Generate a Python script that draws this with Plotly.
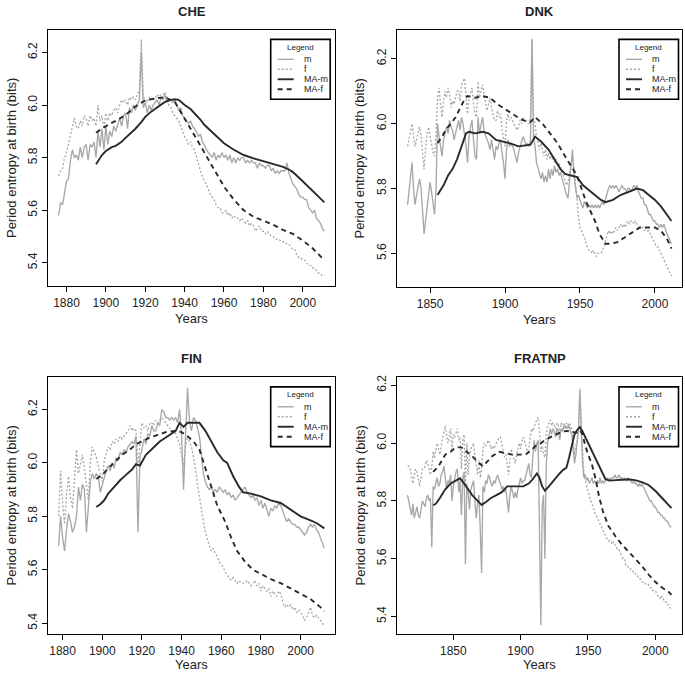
import plotly.graph_objects as go

W, H = 685, 673
FONT = "Liberation Sans, Arial, Helvetica, sans-serif"
TXT = "#222222"

# ---------------- data ----------------
CHE_YEARS = list(range(1876, 2012))
CHE_M = [5.58, 5.63, 5.62, 5.66,
         5.71, 5.72, 5.79, 5.83, 5.80, 5.81, 5.79, 5.84, 5.80, 5.84,
         5.85, 5.79, 5.85, 5.84, 5.86, 5.80, 5.90, 5.84, 5.91, 5.83,
         5.92, 5.85, 5.90, 5.88, 5.92, 5.90, 5.93, 5.95, 5.92, 5.96,
         5.97, 5.91, 5.99, 5.97, 6.00, 5.98, 6.00, 6.02, 6.20, 5.99,
         6.01, 5.97, 6.00, 5.98, 6.00, 6.01, 6.02, 6.00, 6.03, 6.02,
         6.04, 6.01, 6.02, 6.02, 6.01, 6.02, 6.00, 5.98, 5.99, 5.96,
         5.95, 5.94, 5.93, 5.94, 5.92, 5.91, 5.90, 5.88, 5.89, 5.86,
         5.85, 5.83, 5.82, 5.81, 5.80, 5.82, 5.79, 5.81, 5.80, 5.82,
         5.80, 5.81, 5.79, 5.81, 5.78, 5.80, 5.78, 5.80, 5.79, 5.80,
         5.80, 5.78, 5.79, 5.78, 5.79, 5.78, 5.78, 5.76, 5.78, 5.77,
         5.77, 5.76, 5.77, 5.77, 5.75, 5.76, 5.74, 5.75, 5.74, 5.75,
         5.75, 5.75, 5.78, 5.74, 5.72, 5.70, 5.69, 5.68, 5.66, 5.65,
         5.65, 5.64, 5.64, 5.61, 5.60, 5.59, 5.60, 5.57, 5.56, 5.55,
         5.53, 5.52]
CHE_F = [5.73, 5.75, 5.76, 5.80,
         5.82, 5.85, 5.88, 5.91, 5.95, 5.92, 5.91, 5.94, 5.92, 5.96,
         5.95, 5.92, 5.96, 5.94, 5.95, 5.92, 6.00, 5.94, 5.96, 5.91,
         5.97, 5.94, 5.97, 5.96, 5.98, 5.99, 5.97, 6.00, 6.02, 6.01,
         6.02, 6.00, 6.03, 6.02, 6.03, 6.02, 6.04, 6.06, 6.25, 6.03,
         6.02, 6.01, 6.03, 6.02, 6.03, 6.02, 6.04, 6.03, 6.04, 6.04,
         6.05, 6.03, 6.00, 5.99, 5.97, 5.96, 5.95, 5.94, 5.92, 5.90,
         5.88, 5.87, 5.85, 5.86, 5.84, 5.83, 5.80, 5.78, 5.75, 5.73,
         5.71, 5.70, 5.68, 5.66, 5.65, 5.64, 5.62, 5.61, 5.61, 5.59,
         5.59, 5.60, 5.58, 5.59, 5.57, 5.58, 5.57, 5.57, 5.56, 5.57,
         5.56, 5.55, 5.56, 5.54, 5.55, 5.54, 5.52, 5.53, 5.54, 5.52,
         5.52, 5.51, 5.52, 5.51, 5.50, 5.50, 5.49, 5.49, 5.49, 5.48,
         5.48, 5.48, 5.47, 5.47, 5.46, 5.45, 5.45, 5.43, 5.42, 5.42,
         5.41, 5.41, 5.40, 5.39, 5.39, 5.38, 5.38, 5.37, 5.36, 5.36,
         5.35, 5.35]
CHE_MAM_YEARS = [1895, 1898, 1900, 1903, 1905, 1908, 1910, 1913, 1915, 1918, 1920, 1923,
                 1925, 1928, 1930, 1933, 1935, 1937, 1940, 1943, 1945, 1948, 1950, 1955,
                 1960, 1965, 1970, 1975, 1980, 1985, 1990, 1993, 1995, 2000, 2005, 2011]
CHE_MAM = [5.775, 5.81, 5.825, 5.84, 5.845, 5.86, 5.875, 5.895, 5.91, 5.935, 5.955, 5.975,
           5.985, 6.00, 6.012, 6.02, 6.022, 6.02, 6.00, 5.985, 5.97, 5.945, 5.925, 5.89,
           5.855, 5.83, 5.81, 5.797, 5.786, 5.776, 5.765, 5.755, 5.745, 5.71, 5.675, 5.63]
CHE_MAF_YEARS = [1895, 1900, 1905, 1910, 1915, 1920, 1925, 1930, 1935, 1940, 1945, 1950,
                 1955, 1960, 1965, 1970, 1975, 1980, 1985, 1990, 1995, 2000, 2005, 2011]
CHE_MAF = [5.895, 5.92, 5.94, 5.962, 5.995, 6.018, 6.025, 6.03, 6.012, 5.95, 5.885, 5.82,
           5.755, 5.69, 5.64, 5.60, 5.575, 5.56, 5.545, 5.525, 5.51, 5.485, 5.455, 5.41]

DNK_YEARS = list(range(1835, 2012))
DNK_M = [5.75, 5.80, 5.85, 5.88, 5.80,
         5.75, 5.78, 5.80, 5.83, 5.80, 5.74, 5.66, 5.70, 5.74, 5.78,
         5.82, 5.79, 5.76, 5.72, 5.80, 6.00, 5.96, 5.93, 5.90, 5.95,
         5.97, 5.99, 5.97, 6.01, 5.99, 5.98, 5.95, 5.97, 5.99, 6.01,
         5.98, 6.02, 6.00, 5.97, 5.93, 5.88, 5.96, 5.99, 6.01, 5.95,
         5.90, 5.89, 6.02, 5.97, 5.99, 6.02, 5.98, 5.96, 5.95, 5.94,
         5.92, 5.95, 5.91, 5.89, 5.93, 5.92, 5.94, 5.95, 5.91, 5.88,
         5.83, 5.92, 5.95, 5.93, 5.94, 5.93, 5.92, 5.90, 5.88, 5.91,
         5.93, 5.94, 5.96, 5.95, 5.93, 5.94, 5.93, 5.95, 6.26, 5.96,
         5.93, 5.88, 5.86, 5.85, 5.83, 5.85, 5.82, 5.84, 5.82, 5.86,
         5.83, 5.86, 5.84, 5.87, 5.85, 5.86, 5.84, 5.85, 5.83, 5.82,
         5.80, 5.78, 5.77, 5.82, 5.86, 5.92, 5.84, 5.80, 5.77, 5.78,
         5.76, 5.75, 5.74, 5.76, 5.75, 5.74, 5.75, 5.74, 5.75, 5.74,
         5.75, 5.74, 5.75, 5.74, 5.75, 5.76, 5.75, 5.77, 5.79, 5.80,
         5.81, 5.80, 5.81, 5.80, 5.81, 5.80, 5.79, 5.80, 5.81, 5.80,
         5.80, 5.79, 5.80, 5.80, 5.79, 5.80, 5.81, 5.80, 5.81, 5.79,
         5.78, 5.77, 5.77, 5.75, 5.75, 5.73, 5.72, 5.72, 5.71, 5.70,
         5.70, 5.69, 5.69, 5.68, 5.69, 5.68, 5.69, 5.67, 5.66, 5.65,
         5.64, 5.63]
DNK_F = [5.93, 5.95, 5.97, 6.00, 5.96,
         5.93, 5.95, 5.97, 5.99, 5.96, 5.90, 5.86, 5.92, 5.97, 5.99,
         5.96, 5.93, 5.91, 5.90, 5.97, 6.08, 6.11, 6.06, 6.02, 6.07,
         6.10, 6.08, 6.11, 6.09, 6.05, 6.07, 6.06, 6.08, 6.10, 6.10,
         6.07, 6.12, 6.13, 6.14, 6.08, 6.03, 6.08, 6.10, 6.11, 6.06,
         6.03, 6.02, 6.13, 6.08, 6.10, 6.12, 6.09, 6.06, 6.04, 6.06,
         6.08, 6.05, 6.03, 6.01, 6.01, 6.04, 6.02, 6.03, 5.98, 5.96,
         5.93, 6.01, 6.03, 6.01, 6.02, 6.01, 6.00, 5.99, 5.98, 5.99,
         6.01, 6.00, 6.02, 6.01, 6.01, 6.00, 6.00, 6.02, 6.26, 6.02,
         6.00, 5.96, 5.94, 5.92, 5.94, 5.92, 5.90, 5.92, 5.89, 5.91,
         5.89, 5.90, 5.89, 5.88, 5.89, 5.87, 5.88, 5.86, 5.85, 5.84,
         5.82, 5.81, 5.82, 5.85, 5.88, 5.90, 5.86, 5.82, 5.77, 5.71,
         5.68, 5.67, 5.66, 5.65, 5.63, 5.62, 5.61, 5.61, 5.60, 5.61,
         5.60, 5.59, 5.60, 5.60, 5.60, 5.61, 5.62, 5.64, 5.66, 5.67,
         5.66, 5.67, 5.66, 5.67, 5.68, 5.67, 5.68, 5.69, 5.68, 5.69,
         5.68, 5.69, 5.70, 5.69, 5.70, 5.70, 5.69, 5.70, 5.69, 5.68,
         5.68, 5.68, 5.68, 5.67, 5.68, 5.67, 5.67, 5.66, 5.65, 5.64,
         5.63, 5.62, 5.62, 5.61, 5.60, 5.59, 5.58, 5.57, 5.56, 5.55,
         5.54, 5.53]
DNK_MAM_YEARS = [1855, 1859, 1862, 1865, 1868, 1871, 1874, 1876, 1880, 1885, 1889, 1894,
                 1898, 1903, 1909, 1913, 1917, 1920, 1924, 1929, 1933, 1937, 1940, 1944,
                 1948, 1952, 1956, 1960, 1964, 1967, 1972, 1977, 1982, 1988, 1992, 1996,
                 2000, 2004, 2008, 2011]
DNK_MAM = [5.78, 5.81, 5.84, 5.86, 5.89, 5.93, 5.97, 5.975, 5.97, 5.975, 5.97, 5.95,
           5.945, 5.94, 5.93, 5.932, 5.935, 5.96, 5.945, 5.92, 5.89, 5.86, 5.845, 5.84,
           5.835, 5.81, 5.795, 5.78, 5.765, 5.758, 5.765, 5.78, 5.79, 5.80, 5.795, 5.78,
           5.765, 5.745, 5.72, 5.70]
DNK_MAF_YEARS = [1855, 1858, 1861, 1864, 1867, 1870, 1873, 1875, 1880, 1885, 1890, 1895,
                 1900, 1905, 1910, 1915, 1917, 1920, 1925, 1930, 1935, 1940, 1945, 1948,
                 1951, 1954, 1957, 1960, 1963, 1967, 1971, 1975, 1980, 1985, 1990, 1995,
                 2000, 2004, 2008, 2011]
DNK_MAF = [5.94, 5.96, 5.985, 6.00, 6.02, 6.05, 6.075, 6.085, 6.08, 6.085, 6.08, 6.06,
           6.045, 6.03, 6.015, 6.005, 6.005, 6.02, 6.00, 5.97, 5.94, 5.90, 5.86, 5.84,
           5.80, 5.76, 5.73, 5.70, 5.66, 5.63, 5.63, 5.635, 5.65, 5.665, 5.68, 5.68,
           5.68, 5.67, 5.645, 5.615]

FIN_YEARS = list(range(1878, 2013))
FIN_M = [5.69, 5.80,
         5.72, 5.67, 5.75, 5.81, 5.78, 5.74, 5.76, 5.80, 5.91, 5.86,
         5.92, 5.90, 5.74, 5.85, 5.93, 5.96, 5.94, 5.96, 5.95, 5.89,
         5.92, 5.95, 5.97, 5.99, 5.97, 6.00, 5.98, 6.02, 6.01, 6.04,
         6.03, 6.05, 6.04, 6.06, 6.07, 6.08, 6.07, 6.10, 5.74, 6.02,
         6.05, 6.09, 6.07, 6.11, 6.10, 6.14, 6.12, 6.12, 6.15, 6.14,
         6.20, 6.19, 6.17, 6.17, 6.16, 6.17, 6.16, 6.17, 6.15, 6.20,
         6.10, 5.90, 6.10, 6.28, 6.15, 6.12, 6.17, 6.16, 6.13, 6.10,
         6.03, 5.96, 5.93, 5.91, 5.90, 5.91, 5.89, 5.90, 5.89, 5.91,
         5.90, 5.89, 5.90, 5.88, 5.89, 5.87, 5.88, 5.86, 5.87, 5.88,
         5.89, 5.90, 5.91, 5.89, 5.88, 5.87, 5.88, 5.86, 5.87, 5.84,
         5.86, 5.83, 5.85, 5.82, 5.80, 5.83, 5.82, 5.84, 5.83, 5.85,
         5.84, 5.82, 5.80, 5.78, 5.79, 5.78, 5.77, 5.77, 5.76, 5.76,
         5.75, 5.74, 5.73, 5.74, 5.76, 5.77, 5.76, 5.77, 5.75, 5.74,
         5.72, 5.70, 5.68]
FIN_F = [5.80, 5.97,
         5.85, 5.77, 5.88, 5.95, 5.87, 5.83, 5.94, 6.05, 5.96, 6.00,
         6.03, 5.98, 5.92, 5.86, 6.00, 6.06, 6.04, 6.02, 5.99, 5.96,
         5.93, 6.01, 6.04, 6.06, 6.05, 6.08, 6.07, 6.09, 6.08, 6.10,
         6.09, 6.10, 6.11, 6.12, 6.14, 6.12, 6.13, 6.12, 5.99, 6.08,
         6.15, 6.13, 6.14, 6.12, 6.15, 6.15, 6.14, 6.16, 6.15, 6.16,
         6.17, 6.16, 6.15, 6.14, 6.13, 6.12, 6.12, 6.11, 6.09, 6.07,
         6.03, 5.99, 6.06, 6.10, 6.08, 6.06, 6.02, 5.98, 5.92, 5.87,
         5.83, 5.78, 5.74, 5.71, 5.69, 5.67, 5.68, 5.66, 5.65, 5.63,
         5.62, 5.61, 5.59, 5.58, 5.57, 5.56, 5.57, 5.56, 5.55, 5.56,
         5.55, 5.55, 5.55, 5.56, 5.55, 5.54, 5.55, 5.56, 5.54, 5.55,
         5.52, 5.54, 5.53, 5.52, 5.53, 5.50, 5.52, 5.51, 5.50, 5.52,
         5.51, 5.48, 5.46, 5.47, 5.46, 5.47, 5.45, 5.46, 5.44, 5.45,
         5.44, 5.43, 5.41, 5.42, 5.44, 5.46, 5.43, 5.42, 5.43, 5.42,
         5.41, 5.40, 5.39]
FIN_MAM_YEARS = [1897, 1899, 1901, 1903, 1906, 1909, 1912, 1915, 1917, 1919, 1922, 1925,
                 1929, 1933, 1937, 1939, 1941, 1943, 1946, 1949, 1952, 1955, 1958, 1961,
                 1963, 1966, 1969, 1971, 1975, 1980, 1985, 1990, 1995, 2000, 2005, 2008,
                 2012]
FIN_MAM = [5.835, 5.845, 5.86, 5.885, 5.91, 5.935, 5.955, 5.975, 5.995, 5.99, 6.03, 6.05,
           6.08, 6.10, 6.12, 6.15, 6.135, 6.15, 6.15, 6.15, 6.12, 6.08, 6.04, 6.01,
           6.00, 5.95, 5.91, 5.89, 5.885, 5.875, 5.86, 5.85, 5.825, 5.80, 5.785, 5.775,
           5.755]
FIN_MAF_YEARS = [1897, 1900, 1903, 1907, 1910, 1914, 1917, 1920, 1924, 1928, 1932, 1937,
                 1940, 1943, 1946, 1949, 1952, 1955, 1958, 1962, 1965, 1968, 1972, 1976,
                 1980, 1985, 1990, 1995, 2000, 2005, 2010, 2012]
FIN_MAF = [5.94, 5.955, 5.98, 6.01, 6.03, 6.05, 6.07, 6.08, 6.095, 6.105, 6.115, 6.12,
           6.115, 6.10, 6.08, 6.05, 5.98, 5.91, 5.84, 5.78, 5.72, 5.67, 5.63, 5.60,
           5.585, 5.565, 5.55, 5.53, 5.51, 5.49, 5.46, 5.445]

FRA_YEARS = list(range(1816, 2013))
FRA_M = [5.82, 5.80, 5.78, 5.75,
         5.79, 5.74, 5.76, 5.78, 5.75, 5.74, 5.77, 5.80, 5.79, 5.78,
         5.81, 5.82, 5.80, 5.81, 5.64, 5.85, 5.84, 5.86, 5.88, 5.85,
         5.86, 5.89, 5.90, 5.92, 5.88, 5.84, 5.87, 5.86, 5.89, 5.80,
         5.85, 5.88, 5.90, 5.91, 5.83, 5.87, 5.75, 5.88, 5.90, 5.58,
         5.86, 5.83, 5.77, 5.84, 5.86, 5.87, 5.80, 5.74, 5.79, 5.82,
         5.70, 5.55, 5.85, 5.83, 5.87, 5.86, 5.89, 5.88, 5.86, 5.85,
         5.87, 5.86, 5.88, 5.89, 5.87, 5.86, 5.84, 5.85, 5.83, 5.84,
         5.80, 5.76, 5.82, 5.85, 5.83, 5.81, 5.83, 5.81, 5.84, 5.86,
         5.88, 5.86, 5.87, 5.87, 5.89, 5.90, 5.93, 5.89, 5.88, 5.95,
         6.01, 5.97, 6.00, 6.01, 5.70, 5.37, 5.78, 5.82, 5.60, 5.92,
         6.00, 6.02, 6.05, 6.03, 6.05, 6.04, 6.02, 6.05, 6.04, 6.01,
         6.05, 6.04, 6.06, 6.05, 6.06, 6.05, 6.06, 6.04, 6.03, 5.98,
         5.93, 5.96, 6.01, 6.05, 6.18, 6.02, 5.93, 5.88, 5.89, 5.87,
         5.88, 5.86, 5.87, 5.88, 5.86, 5.87, 5.86, 5.87, 5.86, 5.88,
         5.86, 5.87, 5.86, 5.87, 5.88, 5.87, 5.88, 5.87, 5.88, 5.88,
         5.89, 5.88, 5.88, 5.89, 5.88, 5.88, 5.87, 5.88, 5.87, 5.87,
         5.88, 5.87, 5.87, 5.86, 5.87, 5.86, 5.86, 5.85, 5.86, 5.85,
         5.86, 5.85, 5.84, 5.83, 5.82, 5.81, 5.80, 5.80, 5.79, 5.78,
         5.78, 5.77, 5.76, 5.76, 5.75, 5.75, 5.74, 5.74, 5.73, 5.73,
         5.72, 5.71, 5.71]
FRA_F = [5.92, 5.92, 5.91, 5.88,
         5.86, 5.89, 5.91, 5.90, 5.87, 5.85, 5.88, 5.91, 5.91, 5.92,
         5.94, 5.93, 5.91, 5.89, 5.92, 5.97, 5.95, 5.98, 6.00, 5.98,
         5.96, 5.99, 6.02, 6.04, 6.06, 6.03, 6.00, 6.02, 6.05, 5.97,
         6.03, 6.02, 6.04, 6.05, 6.01, 6.02, 5.91, 6.01, 6.03, 5.85,
         6.00, 5.89, 5.95, 5.98, 5.99, 6.00, 5.96, 5.92, 5.89, 5.94,
         5.88, 5.91, 5.98, 6.00, 5.99, 6.00, 6.01, 6.00, 5.98, 5.99,
         5.98, 5.99, 6.00, 6.01, 6.02, 6.02, 6.00, 5.98, 5.95, 5.96,
         5.92, 5.89, 5.94, 5.98, 5.96, 5.94, 5.93, 5.96, 5.98, 6.00,
         5.98, 6.01, 6.02, 6.00, 5.99, 5.97, 5.98, 6.01, 6.05, 6.04,
         6.06, 6.07, 6.08, 6.09, 6.04, 5.97, 5.99, 5.96, 5.95, 6.03,
         6.06, 6.07, 6.08, 6.06, 6.07, 6.06, 6.05, 6.07, 6.06, 6.04,
         6.07, 6.06, 6.07, 6.06, 6.07, 6.06, 6.07, 6.06, 6.05, 6.01,
         5.96, 5.99, 6.01, 6.06, 6.19, 6.05, 5.95, 5.90, 5.87, 5.85,
         5.83, 5.81, 5.80, 5.79, 5.77, 5.76, 5.75, 5.74, 5.73, 5.72,
         5.71, 5.70, 5.69, 5.68, 5.67, 5.67, 5.66, 5.66, 5.65, 5.66,
         5.65, 5.64, 5.63, 5.63, 5.62, 5.61, 5.60, 5.60, 5.58, 5.58,
         5.57, 5.57, 5.56, 5.56, 5.55, 5.55, 5.54, 5.54, 5.53, 5.53,
         5.52, 5.52, 5.52, 5.51, 5.51, 5.51, 5.50, 5.50, 5.49, 5.49,
         5.49, 5.48, 5.47, 5.47, 5.46, 5.47, 5.46, 5.45, 5.45, 5.44,
         5.44, 5.43, 5.42]
FRA_MAM_YEARS = [1835, 1837, 1840, 1844, 1848, 1853, 1855, 1858, 1861, 1864, 1867, 1871,
                 1874, 1878, 1882, 1886, 1890, 1894, 1898, 1902, 1906, 1909, 1912, 1914,
                 1916, 1918, 1921, 1925, 1928, 1931, 1934, 1936, 1938, 1940, 1942, 1944,
                 1946, 1948, 1951, 1955, 1959, 1963, 1966, 1970, 1975, 1980, 1985, 1990,
                 1995, 2000, 2005, 2009, 2012]
FRA_MAM = [5.785, 5.79, 5.81, 5.84, 5.86, 5.875, 5.878, 5.86, 5.84, 5.82, 5.805, 5.786,
           5.795, 5.81, 5.82, 5.83, 5.85, 5.85, 5.848, 5.85, 5.86, 5.875, 5.895, 5.88,
           5.85, 5.835, 5.85, 5.875, 5.89, 5.905, 5.915, 5.95, 5.99, 6.03, 6.045, 6.055,
           6.04, 6.02, 5.99, 5.95, 5.91, 5.875, 5.87, 5.872, 5.875, 5.875, 5.872, 5.865,
           5.855, 5.835, 5.81, 5.79, 5.775]
FRA_MAF_YEARS = [1835, 1839, 1844, 1848, 1852, 1856, 1860, 1864, 1868, 1872, 1875, 1879,
                 1884, 1889, 1894, 1899, 1904, 1908, 1911, 1915, 1918, 1922, 1926, 1930,
                 1934, 1938, 1941, 1944, 1946, 1948, 1951, 1953, 1956, 1958, 1961, 1965,
                 1970, 1975, 1980, 1985, 1990, 1995, 2000, 2005, 2010, 2012]
FRA_MAF = [5.90, 5.92, 5.96, 5.97, 5.985, 5.985, 5.97, 5.955, 5.935, 5.92, 5.935, 5.955,
           5.97, 5.965, 5.96, 5.96, 5.962, 5.975, 5.99, 6.00, 6.01, 6.02, 6.03, 6.038,
           6.042, 6.04, 6.035, 6.045, 6.03, 5.99, 5.95, 5.925, 5.87, 5.82, 5.765, 5.715,
           5.68, 5.65, 5.625, 5.60, 5.575, 5.545, 5.52, 5.50, 5.485, 5.475]

assert len(CHE_M) == len(CHE_YEARS) == len(CHE_F)
assert len(DNK_M) == len(DNK_YEARS) == len(DNK_F)
assert len(FIN_M) == len(FIN_YEARS) == len(FIN_F)
assert len(FRA_M) == len(FRA_YEARS) == len(FRA_F)

SERIES_NAMES = ["m", "f", "MA-m", "MA-f"]

# ---------------- layout / style ----------------
STYLES = {
    "m": dict(color="#a8a8a8", width=1.35, dash="solid"),
    "f": dict(color="#a8a8a8", width=1.35, dash="2px,2px"),
    "MA-m": dict(color="#2a2a2a", width=1.9, dash="solid"),
    "MA-f": dict(color="#2a2a2a", width=1.9, dash="5px,4px"),
}

PANELS = [
    dict(title="CHE", px=(48, 335), py=(28, 285), xr=[1870.6, 2016.4], yr=[5.311, 6.286],
         xt=[1880, 1900, 1920, 1940, 1960, 1980, 2000], yt=[5.4, 5.6, 5.8, 6.0, 6.2],
         leg=(270.7, 37.5), ytitle_dy=0,
         data=[(CHE_YEARS, CHE_M), (CHE_YEARS, CHE_F), (CHE_MAM_YEARS, CHE_MAM), (CHE_MAF_YEARS, CHE_MAF)]),
    dict(title="DNK", px=(397, 682), py=(28, 286), xr=[1827.96, 2018.04], yr=[5.496, 6.289],
         xt=[1850, 1900, 1950, 2000], yt=[5.6, 5.8, 6.0, 6.2],
         leg=(619.0, 37.5), ytitle_dy=0,
         data=[(DNK_YEARS, DNK_M), (DNK_YEARS, DNK_F), (DNK_MAM_YEARS, DNK_MAM), (DNK_MAF_YEARS, DNK_MAF)]),
    dict(title="FIN", px=(48, 335), py=(376, 634), xr=[1872.64, 2017.36], yr=[5.359, 6.322],
         xt=[1880, 1900, 1920, 1940, 1960, 1980, 2000], yt=[5.4, 5.6, 5.8, 6.0, 6.2],
         leg=(270.7, 386.0), ytitle_dy=0,
         data=[(FIN_YEARS, FIN_M), (FIN_YEARS, FIN_F), (FIN_MAM_YEARS, FIN_MAM), (FIN_MAF_YEARS, FIN_MAF)]),
    dict(title="FRATNP", px=(397, 682), py=(376, 634), xr=[1808.16, 2019.84], yr=[5.339, 6.229],
         xt=[1850, 1900, 1950, 2000], yt=[5.4, 5.6, 5.8, 6.0, 6.2],
         leg=(619.0, 386.0), ytitle_dy=0,
         data=[(FRA_YEARS, FRA_M), (FRA_YEARS, FRA_F), (FRA_MAM_YEARS, FRA_MAM), (FRA_MAF_YEARS, FRA_MAF)]),
]


def fx(px):
    return px / W


def fy(py):
    return 1 - py / H


fig = go.Figure()
layout_axes = {}
annotations = []
shapes = []

for i, p in enumerate(PANELS, start=1):
    sfx = "" if i == 1 else str(i)
    for name, (xs, ys) in zip(SERIES_NAMES, p["data"]):
        st = STYLES[name]
        fig.add_trace(go.Scatter(
            x=xs, y=ys, mode="lines", name=name, showlegend=False,
            xaxis="x" + sfx, yaxis="y" + sfx,
            line=dict(color=st["color"], width=st["width"], dash=st["dash"]),
            hoverinfo="skip"))
    common = dict(showline=True, mirror=True, linecolor="black", linewidth=1,
                  ticks="outside", ticklen=5, tickwidth=1, tickcolor="black",
                  showgrid=False, zeroline=False,
                  tickfont=dict(family=FONT, size=12, color=TXT))
    layout_axes["xaxis" + sfx] = dict(
        domain=[fx(p["px"][0]), fx(p["px"][1])], range=p["xr"], anchor="y" + sfx,
        tickvals=p["xt"], ticktext=[str(v) for v in p["xt"]], **common)
    layout_axes["yaxis" + sfx] = dict(
        domain=[fy(p["py"][1]), fy(p["py"][0])], range=p["yr"], anchor="x" + sfx,
        tickvals=p["yt"], ticktext=["%.1f" % v for v in p["yt"]], tickangle=-90, **common)

    cx = (p["px"][0] + p["px"][1]) / 2
    cy = (p["py"][0] + p["py"][1]) / 2
    # panel title
    annotations.append(dict(text="<b>%s</b>" % p["title"], x=fx(cx), y=fy(p["py"][0] - 18),
                            xref="paper", yref="paper", showarrow=False,
                            xanchor="center", yanchor="middle",
                            font=dict(family=FONT, size=13, color=TXT)))
    # x title
    annotations.append(dict(text="Years", x=fx(cx), y=fy(min(p["py"][1] + 32, H - 9)),
                            xref="paper", yref="paper", showarrow=False,
                            xanchor="center", yanchor="middle",
                            font=dict(family=FONT, size=13, color=TXT)))
    # y title
    annotations.append(dict(text="Period entropy at birth (bits)", x=fx(p["px"][0] - 37),
                            y=fy(cy), xref="paper", yref="paper", showarrow=False,
                            textangle=-90, xanchor="center", yanchor="middle",
                            font=dict(family=FONT, size=13, color=TXT)))

    # legend box (drawn like R's legend())
    xl, yt = p["leg"]
    lw, lh = 59.5, 60
    shapes.append(dict(type="rect", xref="paper", yref="paper",
                       x0=fx(xl), x1=fx(xl + lw), y0=fy(yt + lh), y1=fy(yt),
                       line=dict(color="black", width=1.6), fillcolor="white", layer="above"))
    annotations.append(dict(text="Legend", x=fx(xl + lw / 2), y=fy(yt + 8),
                            xref="paper", yref="paper", showarrow=False,
                            xanchor="center", yanchor="middle",
                            font=dict(family=FONT, size=8, color=TXT)))
    for k, name in enumerate(SERIES_NAMES):
        st = STYLES[name]
        yy = yt + 20 + 10 * k
        shapes.append(dict(type="line", xref="paper", yref="paper",
                           x0=fx(xl + 7), x1=fx(xl + 23), y0=fy(yy), y1=fy(yy),
                           line=dict(color=st["color"], width=st["width"], dash=st["dash"]),
                           layer="above"))
        annotations.append(dict(text=name, x=fx(xl + 31), y=fy(yy),
                                xref="paper", yref="paper", showarrow=False,
                                xanchor="left", yanchor="middle",
                                font=dict(family=FONT, size=9, color=TXT)))

fig.update_layout(
    width=W, height=H, margin=dict(l=0, r=0, t=0, b=0),
    paper_bgcolor="white", plot_bgcolor="white",
    font=dict(family=FONT, color=TXT),
    showlegend=False,
    annotations=annotations, shapes=shapes,
    **layout_axes)

fig.write_html("out.html", config={"displayModeBar": False},
               post_script="document.body.style.margin='0';")
